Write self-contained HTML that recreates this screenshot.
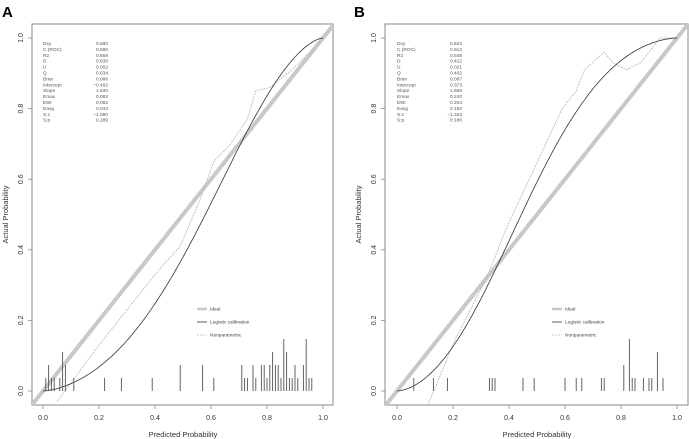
<!DOCTYPE html>
<html><head><meta charset="utf-8"><style>
body{margin:0;background:#fff;}
svg{display:block;font-family:"Liberation Sans",Arial,sans-serif;}
</style></head><body>
<svg id="chart" width="689" height="439" viewBox="0 0 689 439"></svg>
<script>
const statNames=["Dxy","C (ROC)","R2","D","U","Q","Brier","Intercept","Slope","Emax","E90","Eavg","S:z","S:p"];
const statsA=["0.680","0.680","0.658","0.636","0.002","0.634","0.086","\u22120.492","1.530","0.082","0.082","0.044","\u22121.080","0.289"];
const statsB=["0.823","0.912","0.548","0.422","0.021","0.402","0.087","0.373","1.665","0.240","0.204","0.160","\u22121.323","0.186"];
const logitA=[-0.492,1.530];
const logitB=[0.373,1.665];
const npAx=[0.05,0.20,0.41,0.49,0.56,0.61,0.67,0.73,0.76,0.81,0.89,0.99];
const npAy=[-0.03,0.13,0.34,0.41,0.54,0.65,0.70,0.77,0.85,0.86,0.91,0.99];
const npBx=[0.11,0.21,0.32,0.39,0.49,0.59,0.64,0.67,0.74,0.77,0.82,0.87,0.94,1.0];
const npBy=[-0.04,0.15,0.32,0.46,0.63,0.80,0.85,0.91,0.96,0.93,0.91,0.93,1.0,1.0];
const rugAx=[0.01,0.02,0.03,0.04,0.06,0.07,0.08,0.11,0.22,0.28,0.39,0.49,0.57,0.61,0.71,0.72,0.73,0.75,0.76,0.78,0.79,0.80,0.81,0.82,0.83,0.84,0.85,0.86,0.87,0.88,0.89,0.90,0.91,0.93,0.94,0.95,0.96];
const rugAn=[1,2,1,1,1,3,2,1,1,1,1,2,2,1,2,1,1,2,1,2,2,1,2,3,2,2,1,4,3,1,1,2,1,2,4,1,1];
const rugBx=[0.06,0.13,0.18,0.33,0.34,0.35,0.45,0.49,0.60,0.64,0.66,0.73,0.74,0.81,0.83,0.84,0.85,0.88,0.90,0.91,0.93,0.95];
const rugBn=[1,1,1,1,1,1,1,1,1,1,1,1,1,2,4,1,1,1,1,1,3,1];
const ticks=[0,0.2,0.4,0.6,0.8,1.0];
const tickLabels=["0.0","0.2","0.4","0.6","0.8","1.0"];

const svg=document.getElementById('chart');
const NS='http://www.w3.org/2000/svg';
function mk(tag,attrs,parent){const e=document.createElementNS(NS,tag);for(const k in attrs)e.setAttribute(k,attrs[k]);(parent||svg).appendChild(e);return e;}

function panel(p){
  const g=mk('g',{});
  
  
  const X=v=>p.x0+v*280, Y=v=>391-v*353;
  const t=mk('text',{x:p.lx,y:17,'font-size':15,'font-weight':'bold',fill:'#000'},g);t.textContent=p.id;
  
  
  const cid='clip'+p.id;
  const cp=mk('clipPath',{id:cid},g);mk('rect',{x:p.bl,y:24,width:p.br-p.bl,height:381},cp);
  const frame=mk('rect',{x:p.bl,y:24,width:p.br-p.bl,height:381,fill:'none',stroke:'#888','stroke-width':1},g);
  
  
  const cg=mk('g',{'clip-path':'url(#'+cid+')'},g);
  // ideal
  const ideal=mk('line',{x1:X(-0.1),y1:Y(-0.1),x2:X(1.1),y2:Y(1.1),stroke:'#c8c8c8','stroke-width':4},cg);
  
  
  // nonparametric
  let d='';p.nx.forEach((v,i)=>{d+=(i?'L':'M')+X(v).toFixed(1)+','+Y(p.ny[i]).toFixed(1);});
  const np=mk('path',{d:d,fill:'none',stroke:'#bbb','stroke-width':0.9,'stroke-dasharray':'2,1'},cg);
  
  
  // logistic
  let d2='';for(let i=0;i<=200;i++){const x=0.0005+i*(0.999/200);const lg=Math.log(x/(1-x));const y=1/(1+Math.exp(-(p.lg[0]+p.lg[1]*lg)));d2+=(i?'L':'M')+X(x).toFixed(1)+','+Y(y).toFixed(1);}
  const lc=mk('path',{d:d2,fill:'none',stroke:'#333','stroke-width':0.8},cg);
  
  
  // rug
  p.rx.forEach((v,i)=>{const r=mk('line',{x1:X(v),x2:X(v),y1:391,y2:391-p.rn[i]*13,stroke:'#555','stroke-width':0.9},cg);
    
    });
  // axes ticks
  ticks.forEach((v,i)=>{
    mk('line',{x1:X(v),x2:X(v),y1:405,y2:409,stroke:'#888','stroke-width':0.8},g);
    const tx=mk('text',{x:X(v),y:420,'font-size':7,'text-anchor':'middle',fill:'#333'},g);tx.textContent=tickLabels[i];
    
    
    mk('line',{x1:p.bl-4,x2:p.bl,y1:Y(v),y2:Y(v),stroke:'#888','stroke-width':0.8},g);
    const ty=mk('text',{x:p.bl-9,y:Y(v),'font-size':7,'text-anchor':'middle',fill:'#333',transform:'rotate(-90 '+(p.bl-9)+' '+Y(v)+')'},g);ty.textContent=tickLabels[i];
    
    
  });
  const xt=mk('text',{x:X(0.5),y:437,'font-size':7.5,'text-anchor':'middle',fill:'#333'},g);xt.textContent='Predicted Probability';
  
  
  const yx=p.bl-24;
  const yt=mk('text',{x:yx,y:Y(0.5),'font-size':7.5,'text-anchor':'middle',fill:'#333',transform:'rotate(-90 '+yx+' '+Y(0.5)+')'},g);yt.textContent='Actual Probability';
  
  
  // stats
  statNames.forEach((n,i)=>{const yy=45+i*5.9;
    const a=mk('text',{x:p.x0,y:yy,'font-size':4.8,fill:'#555'},g);a.textContent=n;
    
    
    const b=mk('text',{x:p.x0+65,y:yy,'font-size':4.8,fill:'#555','text-anchor':'end'},g);b.textContent=p.st[i];
    
    });
  // legend
  const L=p.legx;
  [['Ideal','#c8c8c8',2.5,''],['Logistic calibration','#333',0.8,''],['Nonparametric','#bbb',0.8,'2,1']].forEach((e,i)=>{
    const yy=309+i*13;
    const le=mk('g',{},g);
    
    
    mk('line',{x1:L,x2:L+10,y1:yy,y2:yy,stroke:e[1],'stroke-width':e[2],'stroke-dasharray':e[3]},le);
    const tt=mk('text',{x:L+13,y:yy+1.7,'font-size':4.8,fill:'#444'},le);tt.textContent=e[0];
  });
}
panel({id:'A',lx:2,x0:43,bl:32,br:333,lg:logitA,nx:npAx,ny:npAy,rx:rugAx,rn:rugAn,st:statsA,legx:197});
panel({id:'B',lx:354,x0:397,bl:385,br:688,lg:logitB,nx:npBx,ny:npBy,rx:rugBx,rn:rugBn,st:statsB,legx:552});
</script>
</body></html>
